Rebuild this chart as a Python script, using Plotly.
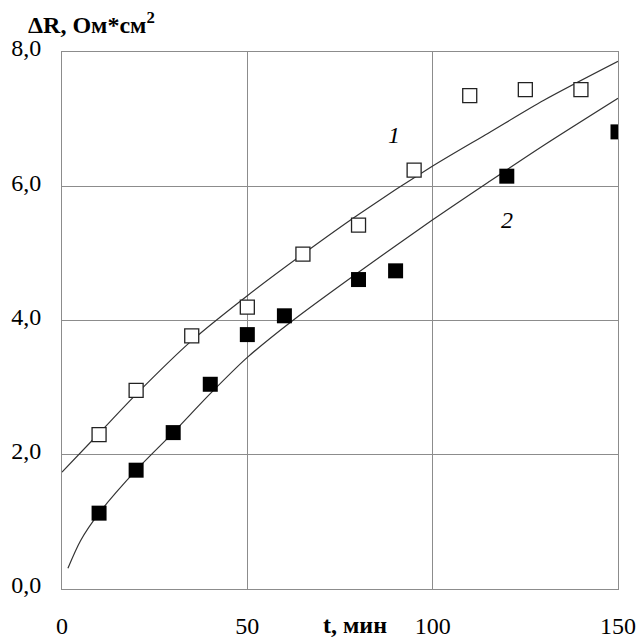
import plotly.graph_objects as go

t1 = [10, 20, 35, 50, 65, 80, 95, 110, 125, 140]
r1 = [2.30, 2.96, 3.77, 4.20, 4.99, 5.42, 6.24, 7.35, 7.44, 7.44]
t2 = [10, 20, 30, 40, 50, 60, 80, 90, 120, 150]
r2 = [1.13, 1.77, 2.33, 3.05, 3.79, 4.07, 4.61, 4.74, 6.15, 6.81]

# Fitted curves
c1_t = [0, 10, 20, 35, 50, 65, 80, 100, 115, 130, 150]
c1_r = [1.74, 2.32, 2.90, 3.70, 4.37, 4.99, 5.58, 6.30, 6.79, 7.28, 7.86]
c2_t = [1.6, 5, 10, 20, 30, 40, 50, 62, 80, 100, 115, 130, 150]
c2_r = [0.31, 0.72, 1.13, 1.77, 2.33, 2.91, 3.45, 3.99, 4.72, 5.50, 6.06, 6.61, 7.31]

x_ticks = [0, 50, 100, 150]
x_labels = ["0", "50", "100", "150"]
y_ticks = [0, 2, 4, 6, 8]
y_labels = ["0,0", "2,0", "4,0", "6,0", "8,0"]

FONT = "Times New Roman, Liberation Serif, serif"

fig = go.Figure()
for ct, cr in ((c1_t, c1_r), (c2_t, c2_r)):
    fig.add_trace(go.Scatter(x=ct, y=cr, mode="lines",
                             line=dict(color="#333333", width=1.2, shape="spline", smoothing=0.8),
                             showlegend=False, hoverinfo="skip"))
fig.add_trace(go.Scatter(x=t1, y=r1, mode="markers",
                         marker=dict(symbol="square", size=14, color="white", line=dict(color="#222222", width=1.3)),
                         showlegend=False))
fig.add_trace(go.Scatter(x=t2, y=r2, mode="markers",
                         marker=dict(symbol="square", size=15, color="black", line=dict(color="black", width=0)),
                         showlegend=False))

fig.update_layout(
    width=637, height=639,
    margin=dict(l=62, r=19, t=52, b=50, autoexpand=False),
    paper_bgcolor="white", plot_bgcolor="white",
    font=dict(family=FONT, size=24, color="black"),
    xaxis=dict(range=[0, 150], tickvals=x_ticks, ticktext=x_labels, automargin=False,
               showgrid=True, gridcolor="#8c8c8c", gridwidth=1,
               showline=True, linecolor="#8c8c8c", linewidth=1, mirror=True,
               ticks="outside", ticklen=15, tickcolor="rgba(0,0,0,0)",
               zeroline=False, tickfont=dict(family=FONT, size=24)),
    yaxis=dict(range=[0, 8], tickvals=y_ticks, ticktext=y_labels, automargin=False,
               showgrid=True, gridcolor="#8c8c8c", gridwidth=1,
               showline=True, linecolor="#8c8c8c", linewidth=1, mirror=True,
               ticks="outside", ticklen=15, tickcolor="rgba(0,0,0,0)",
               ticklabelshift=-4,
               zeroline=False, tickfont=dict(family=FONT, size=24)),
    annotations=[
        dict(text="<b>ΔR, Ом*см<sup>2</sup></b>", xref="paper", yref="paper", x=-0.065, y=1.054,
             xanchor="left", yanchor="middle", showarrow=False, font=dict(family=FONT, size=24)),
        dict(text="<b>t, мин</b>", xref="paper", yref="paper", x=0.527, y=-0.067,
             xanchor="center", yanchor="middle", showarrow=False, font=dict(family=FONT, size=24)),
        dict(text="<i>1</i>", xref="x", yref="y", x=89.5, y=6.77, showarrow=False,
             font=dict(family=FONT, size=24)),
        dict(text="<i>2</i>", xref="x", yref="y", x=120, y=5.5, showarrow=False,
             font=dict(family=FONT, size=24)),
    ],
)

fig.write_html("out.html", config={"displayModeBar": False},
               post_script="document.body.style.margin='0px';document.body.style.overflow='hidden';")
